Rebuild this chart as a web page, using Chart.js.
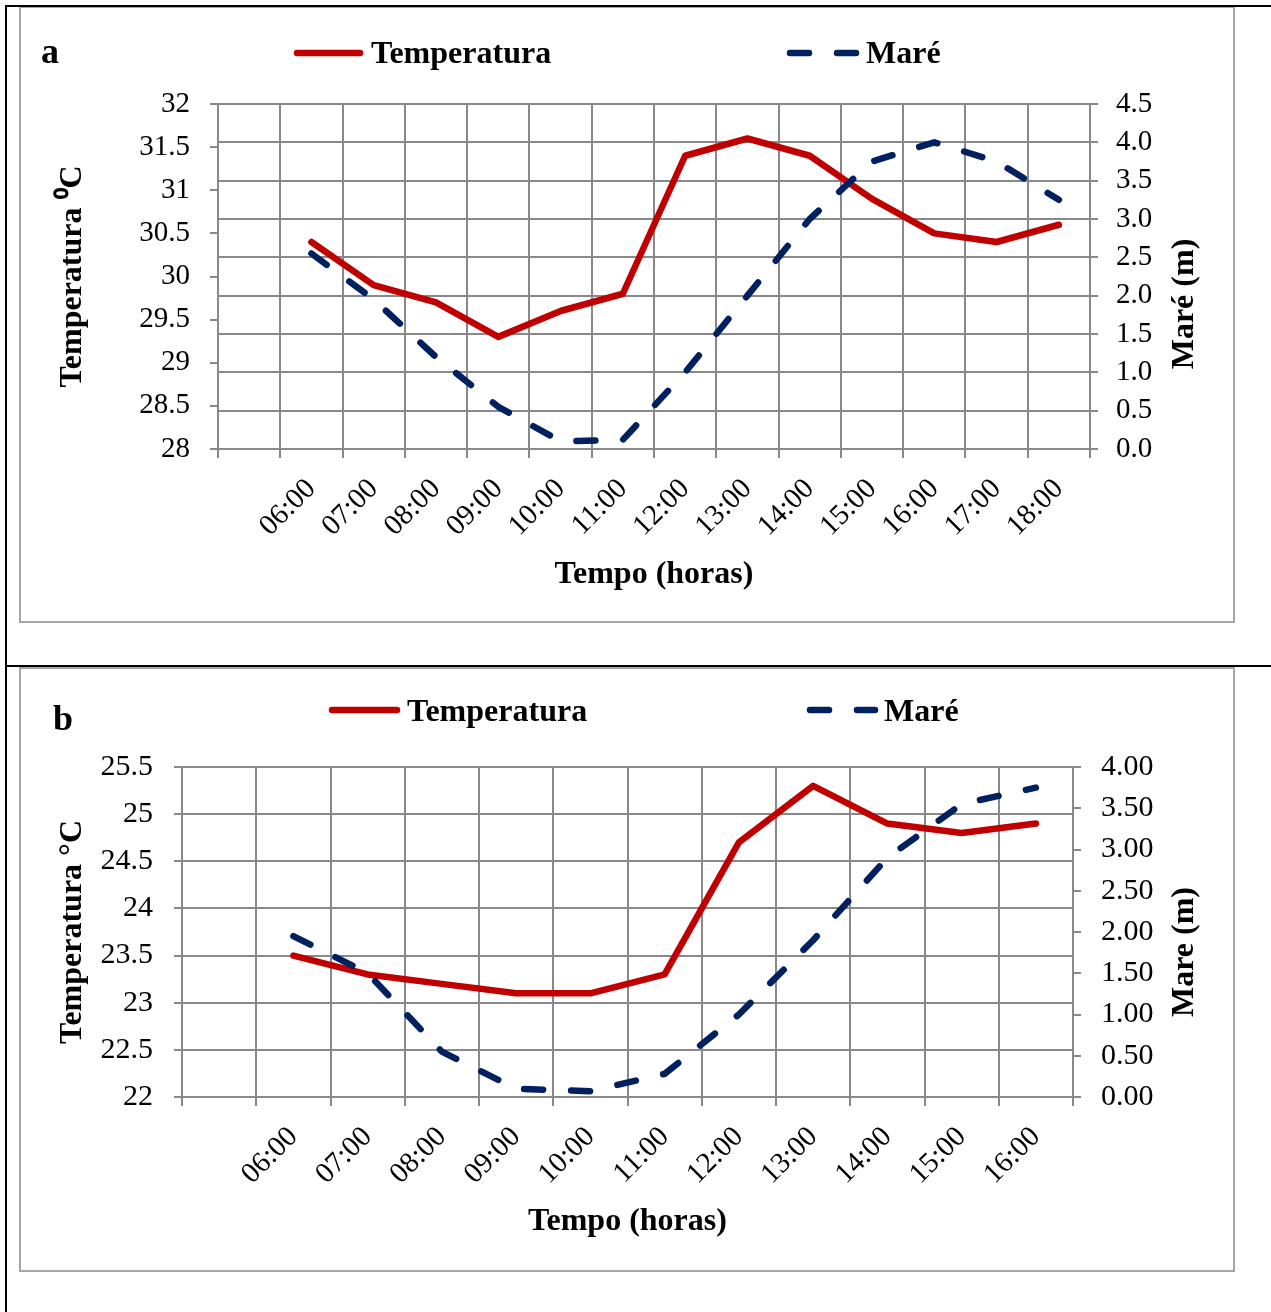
<!DOCTYPE html>
<html><head><meta charset="utf-8">
<script src="https://cdn.jsdelivr.net/npm/chart.js@4.4.1/dist/chart.umd.min.js"></script>
<style>
html,body{margin:0;padding:0;background:#fff;}
body{width:1271px;height:1312px;position:relative;overflow:hidden;}
.bl{position:absolute;background:#000;}
.frame{position:absolute;border:2px solid #a6a6a6;box-sizing:border-box;}
canvas{position:absolute;}
</style></head><body>
<div class="frame" style="left:19px;top:6px;width:1216px;height:617px"></div>
<div class="frame" style="left:19px;top:667px;width:1216px;height:605px"></div>
<div class="bl" style="left:5px;top:5px;width:1266px;height:2px"></div>
<div class="bl" style="left:5px;top:5px;width:2px;height:1307px"></div>
<div class="bl" style="left:5px;top:665px;width:1266px;height:2px"></div>
<canvas id="chartA" width="1213" height="615" style="left:20px;top:7px"></canvas>
<canvas id="chartB" width="1213" height="603" style="left:20px;top:668px"></canvas>
<script>
// ---------- data: panel a ----------
const horasA = ['', '06:00', '07:00', '08:00', '09:00', '10:00', '11:00', '12:00', '13:00', '14:00', '15:00', '16:00', '17:00', '18:00'];
const temperaturaA = [null, 30.4, 29.9, 29.7, 29.3, 29.6, 29.8, 31.4, 31.6, 31.4, 30.9, 30.5, 30.4, 30.6];
const mareA = [null, 2.55, 1.95, 1.2, 0.55, 0.1, 0.12, 1.0, 2.0, 3.0, 3.75, 4.0, 3.75, 3.25];
const tempTicksA = [28, 28.5, 29, 29.5, 30, 30.5, 31, 31.5, 32];
const tempTickLabelsA = ['28', '28.5', '29', '29.5', '30', '30.5', '31', '31.5', '32'];
const mareTicksA = [0, 0.5, 1, 1.5, 2, 2.5, 3, 3.5, 4, 4.5];
const mareTickLabelsA = ['0.0', '0.5', '1.0', '1.5', '2.0', '2.5', '3.0', '3.5', '4.0', '4.5'];

// ---------- data: panel b ----------
const horasB = ['', '06:00', '07:00', '08:00', '09:00', '10:00', '11:00', '12:00', '13:00', '14:00', '15:00', '16:00'];
const temperaturaB = [null, 23.5, 23.3, 23.2, 23.1, 23.1, 23.3, 24.7, 25.3, 24.9, 24.8, 24.9];
const mareB = [null, 1.95, 1.5, 0.55, 0.1, 0.07, 0.28, 1.0, 1.9, 2.9, 3.55, 3.75];
const tempTicksB = [22, 22.5, 23, 23.5, 24, 24.5, 25, 25.5];
const tempTickLabelsB = ['22', '22.5', '23', '23.5', '24', '24.5', '25', '25.5'];
const mareTicksB = [0, 0.5, 1, 1.5, 2, 2.5, 3, 3.5, 4];
const mareTickLabelsB = ['0.00', '0.50', '1.00', '1.50', '2.00', '2.50', '3.00', '3.50', '4.00'];

const FONT = "'Liberation Serif','Times New Roman',serif";
const BOLD = 32;
const GRID = '#898989';
const RED = '#C00000';
const NAVY = '#002060';
const LW = 6.5;
const DASH = [19, 28];

function extrasPlugin(o) {
  return {
    id: 'extras_' + o.letter,
    afterDraw(chart) {
      const ctx = chart.ctx;
      const ds = chart.data.datasets;
      ctx.save();
      ctx.fillStyle = '#000';
      ctx.textBaseline = 'alphabetic';
      ctx.textAlign = 'left';
      ctx.font = 'bold ' + o.letterSize + 'px ' + FONT;
      ctx.fillText(o.letter, o.letterX, o.letterY);
      o.legend.forEach((it, i) => {
        const d = ds[i];
        ctx.save();
        ctx.strokeStyle = d.borderColor;
        ctx.lineWidth = LW;
        ctx.lineCap = 'round';
        ctx.setLineDash(d.borderDash || []);
        ctx.beginPath();
        ctx.moveTo(it.x1, it.y);
        ctx.lineTo(it.x2, it.y);
        ctx.stroke();
        ctx.restore();
        ctx.font = 'bold ' + BOLD + 'px ' + FONT;
        ctx.fillText(d.label, it.tx, it.ty);
      });
      ctx.translate(o.rtX, o.rtY);
      ctx.rotate(-Math.PI / 2);
      ctx.textAlign = 'center';
      ctx.font = 'bold ' + BOLD + 'px ' + FONT;
      ctx.fillText(o.rightTitle, 0, 0);
      ctx.restore();
    }
  };
}

function buildChart(id, o) {
  return new Chart(document.getElementById(id), {
    type: 'line',
    data: {
      labels: o.labels,
      datasets: [
        { label: 'Temperatura', data: o.temp, yAxisID: 'y', borderColor: RED, backgroundColor: RED,
          borderWidth: LW, pointRadius: 0, borderJoinStyle: 'round', borderCapStyle: 'round', tension: 0, order: 2 },
        { label: 'Maré', data: o.mare, yAxisID: 'y1', borderColor: NAVY, backgroundColor: NAVY,
          borderWidth: LW, borderDash: DASH, borderCapStyle: 'round', borderJoinStyle: 'round', pointRadius: 0, tension: 0, order: 1 }
      ]
    },
    options: {
      responsive: false, animation: false, devicePixelRatio: 1,
      layout: { padding: { top: o.padTop, left: 0, right: 0, bottom: 0 } },
      plugins: { legend: { display: false }, tooltip: { enabled: false } },
      scales: {
        x: {
          type: 'category', offset: true,
          grid: { offset: true, color: GRID, lineWidth: 2, tickLength: 9 },
          border: { color: GRID, width: 2 },
          ticks: { autoSkip: false, minRotation: 45, maxRotation: 45, padding: o.xPad, color: '#000',
                   font: { family: FONT, size: 29 } },
          title: { display: true, text: 'Tempo (horas)', color: '#000',
                   font: { family: FONT, size: BOLD, weight: 'bold' }, padding: { top: 0, bottom: o.xTitlePad } },
          afterFit: s => { s.height = o.xH; }
        },
        y: {
          position: 'left', min: o.tTicks[0], max: o.tTicks[o.tTicks.length - 1],
          afterBuildTicks: s => { s.ticks = o.tTicks.map(v => ({ value: v })); },
          grid: { drawOnChartArea: o.gridLeft, color: GRID, lineWidth: 2, tickLength: 8 },
          border: { color: GRID, width: 2 },
          ticks: { padding: o.lPad, color: '#000', font: { family: FONT, size: o.yFont },
                   callback: v => o.tLabels[o.tTicks.indexOf(v)] },
          title: { display: true, text: o.leftTitle, color: '#000',
                   font: { family: FONT, size: BOLD, weight: 'bold' }, padding: { top: o.lTitlePad, bottom: 0 } },
          afterFit: s => { s.width = o.lW; }
        },
        y1: {
          position: 'right', min: o.mTicks[0], max: o.mTicks[o.mTicks.length - 1],
          afterBuildTicks: s => { s.ticks = o.mTicks.map(v => ({ value: v })); },
          grid: { drawOnChartArea: !o.gridLeft, color: GRID, lineWidth: 2, tickLength: 8 },
          border: { color: GRID, width: 2 },
          ticks: { padding: o.rPad, color: '#000', font: { family: FONT, size: o.yFont },
                   callback: v => o.mLabels[o.mTicks.indexOf(v)] },
          afterFit: s => { s.width = o.rW; }
        }
      }
    },
    plugins: [extrasPlugin(o)]
  });
}

buildChart('chartA', {
  labels: horasA, temp: temperaturaA, mare: mareA,
  tTicks: tempTicksA, tLabels: tempTickLabelsA, mTicks: mareTicksA, mLabels: mareTickLabelsA,
  gridLeft: false, padTop: 97, xH: 173, lW: 198, rW: 143,
  xPad: 14, xTitlePad: 28, lPad: 20, rPad: 18, yFont: 29, lTitlePad: 34,
  leftTitle: 'Temperatura ⁰C', rightTitle: 'Maré (m)',
  letter: 'a', letterSize: 36, letterX: 21, letterY: 56,
  legend: [ { x1: 277, x2: 340, y: 46, tx: 351, ty: 56 }, { x1: 770, x2: 836, y: 46, tx: 846, ty: 56 } ],
  rtX: 1173, rtY: 297
});

buildChart('chartB', {
  labels: horasB, temp: temperaturaB, mare: mareB,
  tTicks: tempTicksB, tLabels: tempTickLabelsB, mTicks: mareTicksB, mLabels: mareTickLabelsB,
  gridLeft: true, padTop: 99, xH: 174, lW: 162, rW: 160,
  xPad: 14, xTitlePad: 30, lPad: 21, rPad: 20, yFont: 30, lTitlePad: 34,
  leftTitle: 'Temperatura °C', rightTitle: 'Mare (m)',
  letter: 'b', letterSize: 36, letterX: 33, letterY: 62,
  legend: [ { x1: 312, x2: 377, y: 42, tx: 387, ty: 53 }, { x1: 790, x2: 855, y: 42, tx: 864, ty: 53 } ],
  rtX: 1173, rtY: 284
});
</script>
</body></html>
